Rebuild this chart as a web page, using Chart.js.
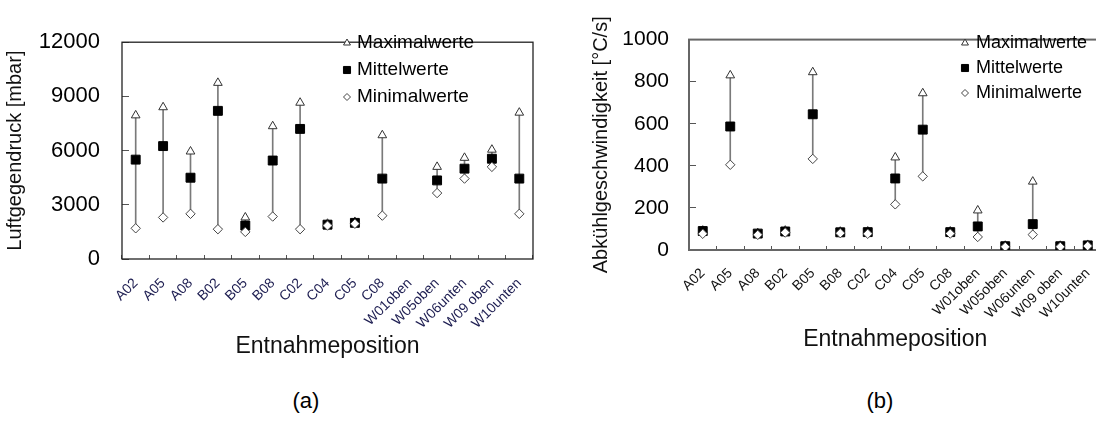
<!DOCTYPE html>
<html>
<head>
<meta charset="utf-8">
<script src="https://cdn.jsdelivr.net/npm/chart.js@4/dist/chart.umd.min.js"></script>
<style>
  html, body { margin:0; padding:0; background:#fff; width:1096px; height:441px; overflow:hidden; }
  body { position:relative; font-family:'Liberation Sans', Arial, sans-serif; }
  canvas { position:absolute; top:0; }
  #ca { left:0; }
  #cb { left:580px; }
  .cap { position:absolute; width:100px; text-align:center; font-size:22px; line-height:22px; color:#000; }
</style>
</head>
<body>
<canvas id="ca" width="560" height="380"></canvas>
<canvas id="cb" width="540" height="380"></canvas>
<div class="cap" style="left:256px; top:390px;">(a)</div>
<div class="cap" style="left:830px; top:390px;">(b)</div>
<script>
// ---- data ----
const categories = ['A02','A05','A08','B02','B05','B08','C02','C04','C05','C08','W01oben','W05oben','W06unten','W09 oben','W10unten'];
const seriesNames = ['Maximalwerte','Mittelwerte','Minimalwerte'];

// (a) Luftgegendruck [mbar]
const maxA  = [7950, 8400, 5950, 9750, 2300, 7350, 8650, 1950, 2050, 6850, null, 5100, 5600, 6050, 8100];
const meanA = [5500, 6250, 4500, 8200, 1850, 5450, 7200, 1900, 2000, 4450, null, 4350, 5000, 5550, 4450];
const minA  = [1700, 2300, 2500, 1650, 1500, 2350, 1650, 1850, 1950, 2400, null, 3650, 4450, 5100, 2500];
const yTicksA = [0, 3000, 6000, 9000, 12000];

// (b) Abkühlgeschwindigkeit [°C/s]
const maxB  = [92, 830, 80, 92, 845, 87, 88, 440, 745, 88, 188, 20, 325, 20, 24];
const meanB = [90, 587, 78, 88, 645, 84, 85, 340, 572, 85, 112, 18, 123, 18, 22];
const minB  = [77, 405, 72, 83, 433, 80, 77, 217, 350, 78, 62, 15, 73, 15, 19];
const yTicksB = [0, 200, 400, 600, 800, 1000];

const FONT = "'Liberation Sans', Arial, sans-serif";

function ranges(mins, maxs) {
  return mins.map((m, i) => (m == null || maxs[i] == null) ? null : [m, maxs[i]]);
}

const framePlugin = {
  id: 'frame',
  beforeDatasetsDraw(chart, args, o) {
    const {left, top, right, bottom} = chart.chartArea;
    const ctx = chart.ctx;
    ctx.save();
    ctx.strokeStyle = o.color;
    ctx.lineWidth = o.width;
    ctx.strokeRect(left, top, right - left, bottom - top);
    ctx.restore();
  }
};

function drawMarker(ctx, style, r, x, y) {
  if (Chart.helpers && Chart.helpers.drawPoint) {
    Chart.helpers.drawPoint(ctx, {pointStyle: style, radius: r, rotation: 0, borderWidth: ctx.lineWidth}, x, y);
  }
}

const markLegendPlugin = {
  id: 'markLegend',
  afterDatasetsDraw(chart, args, o) {
    const ctx = chart.ctx;
    const ds = chart.data.datasets.filter(d => d.legendItem);
    ds.forEach((d, i) => {
      const y = o.ys[i];
      ctx.save();
      ctx.fillStyle = d.pointBackgroundColor;
      ctx.strokeStyle = d.pointBorderColor;
      ctx.lineWidth = 1;
      drawMarker(ctx, d.pointStyle, o.radii[i], o.markerX, y);
      ctx.restore();
      ctx.save();
      ctx.font = o.fontSize + 'px ' + FONT;
      ctx.fillStyle = '#000';
      ctx.textBaseline = 'middle';
      ctx.textAlign = 'left';
      ctx.fillText(d.label, o.textX, y);
      ctx.restore();
    });
  }
};

function makeChart(id, cfg) {
  const H = 380;
  const yTicks = cfg.yTicks;
  return new Chart(document.getElementById(id), {
    type: 'bar',
    data: {
      labels: categories,
      datasets: [
        { type: 'bar', label: 'range', data: ranges(cfg.min, cfg.max), backgroundColor: cfg.rangeColor,
          borderWidth: 0, barThickness: 1, order: 10 },
        { type: 'line', label: seriesNames[0], legendItem: true, data: cfg.max, showLine: false,
          pointStyle: 'triangle', pointRadius: 5, pointBackgroundColor: '#fff', pointBorderColor: '#333',
          pointBorderWidth: 1, order: 3 },
        { type: 'line', label: seriesNames[1], legendItem: true, data: cfg.mean, showLine: false,
          pointStyle: 'rect', pointRadius: 6.3, pointBackgroundColor: '#000', pointBorderColor: '#000',
          pointBorderWidth: 1, order: 2 },
        { type: 'line', label: seriesNames[2], legendItem: true, data: cfg.min, showLine: false,
          pointStyle: 'rectRot', pointRadius: 4.7, pointBackgroundColor: '#fff', pointBorderColor: '#444',
          pointBorderWidth: 1, order: 1 }
      ]
    },
    options: {
      responsive: false,
      animation: false,
      events: [],
      layout: { padding: { left: 0, top: cfg.top, right: cfg.padRight, bottom: 0 } },
      plugins: {
        legend: { display: false },
        tooltip: { enabled: false },
        frame: { color: cfg.frameColor, width: cfg.frameWidth },
        markLegend: cfg.legend
      },
      scales: {
        x: {
          type: 'category',
          offset: true,
          afterFit: s => { s.height = H - cfg.bottom; },
          border: { display: false },
          grid: { display: true, offset: true, drawOnChartArea: false, drawTicks: true, tickLength: -4, color: '#555', lineWidth: 1 },
          ticks: { autoSkip: false, minRotation: 45, maxRotation: 45, padding: cfg.xTickPad,
                   color: cfg.xTickColor, font: { family: FONT, size: 14 } },
          title: { display: true, text: 'Entnahmeposition', color: '#111',
                   font: { family: FONT, size: 23 }, padding: { top: 0, bottom: cfg.xTitlePad } }
        },
        y: {
          min: yTicks[0], max: yTicks[yTicks.length - 1],
          afterFit: s => { s.width = cfg.left; },
          afterBuildTicks: s => { s.ticks = yTicks.map(v => ({ value: v })); },
          border: { display: false },
          grid: { display: true, drawOnChartArea: false, drawTicks: true, tickLength: -7, color: '#555', lineWidth: 1 },
          ticks: { padding: cfg.yTickPad, color: '#000', font: { family: FONT, size: cfg.yTickSize },
                   callback: v => String(v) },
          title: { display: true, text: cfg.yTitle, color: '#111',
                   font: { family: FONT, size: 20 }, padding: { top: cfg.yTitlePad, bottom: 0 } }
        }
      }
    },
    plugins: [framePlugin, markLegendPlugin]
  });
}

makeChart('ca', {
  max: maxA, mean: meanA, min: minA, yTicks: yTicksA,
  yTitle: 'Luftgegendruck [mbar]',
  top: 22, bottom: 259, left: 122, padRight: 27,
  yTickPad: 29, yTickSize: 22, yTitlePad: 3.5,
  xTickPad: 20, xTitlePad: 20, xTickColor: '#1c1c50',
  frameColor: '#222', frameWidth: 1.3, rangeColor: '#7a7a7a',
  legend: { markerX: 347, textX: 357, ys: [43, 70, 97], radii: [4, 5, 3.5], fontSize: 19 }
});

makeChart('cb', {
  max: maxB, mean: meanB, min: minB, yTicks: yTicksB,
  yTitle: 'Abkühlgeschwindigkeit [°C/s]',
  top: 21, bottom: 250, left: 109, padRight: 18.5,
  yTickPad: 27, yTickSize: 21, yTitlePad: 9.5,
  xTickPad: 19, xTitlePad: 27, xTickColor: '#111',
  frameColor: '#666', frameWidth: 2, rangeColor: '#7a7a7a',
  legend: { markerX: 385, textX: 396, ys: [43, 68, 93], radii: [4, 5, 3.5], fontSize: 18 }
});
</script>
</body>
</html>
